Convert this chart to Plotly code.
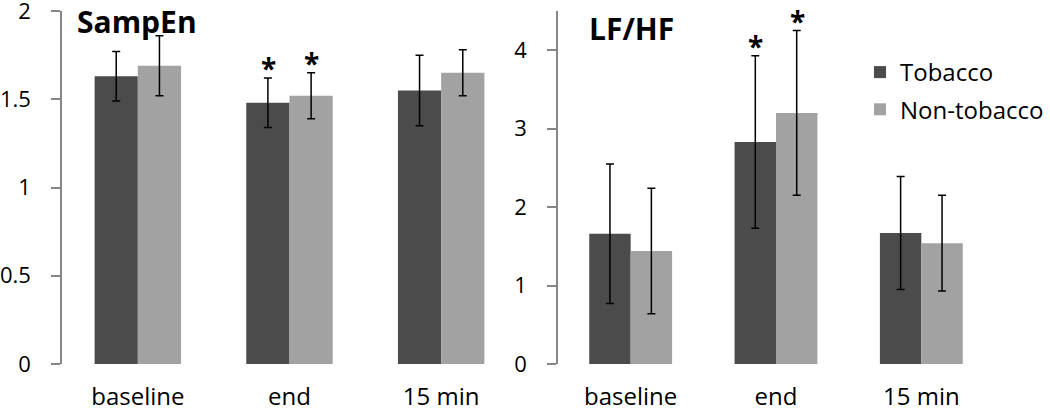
import plotly.graph_objects as go

categories = ["baseline", "end", "15 min"]

sampen_tobacco = [1.63, 1.48, 1.55]
sampen_tobacco_err = [0.14, 0.14, 0.20]
sampen_nontobacco = [1.69, 1.52, 1.65]
sampen_nontobacco_err = [0.17, 0.13, 0.13]

lfhf_tobacco = [1.66, 2.83, 1.67]
lfhf_tobacco_err = [0.89, 1.10, 0.72]
lfhf_nontobacco = [1.44, 3.20, 1.54]
lfhf_nontobacco_err = [0.80, 1.05, 0.61]

# significance markers (category, series)
stars = [("end", "Tobacco"), ("end", "Non-tobacco")]

DARK = "#4b4b4b"
LIGHT = "#a2a2a2"
AXIS = "#868686"
FONT = "Open Sans"

fig = go.Figure()

def add_pair(xa, ya, t, te, n, ne, show):
    fig.add_trace(go.Bar(
        x=categories, y=t, name="Tobacco", marker=dict(color=DARK, line=dict(width=0)),
        error_y=dict(type="data", array=te, color="black", thickness=1.5, width=4),
        xaxis=xa, yaxis=ya, showlegend=show, legendgroup="t"))
    fig.add_trace(go.Bar(
        x=categories, y=n, name="Non-tobacco", marker=dict(color=LIGHT, line=dict(width=0)),
        error_y=dict(type="data", array=ne, color="black", thickness=1.5, width=4),
        xaxis=xa, yaxis=ya, showlegend=show, legendgroup="n"))

add_pair("x", "y", sampen_tobacco, sampen_tobacco_err, sampen_nontobacco, sampen_nontobacco_err, True)
add_pair("x2", "y2", lfhf_tobacco, lfhf_tobacco_err, lfhf_nontobacco, lfhf_nontobacco_err, False)

def star_anns(xref, yref, t, te, n, ne, shift):
    anns = []
    for cat, ser in stars:
        i = categories.index(cat)
        if ser == "Tobacco":
            yv, xs = t[i] + te[i], -shift
        else:
            yv, xs = n[i] + ne[i], shift
        anns.append(dict(x=cat, y=yv, xref=xref, yref=yref, text="<b>*</b>", showarrow=False,
                         xshift=xs, yshift=-11, yanchor="bottom",
                         font=dict(family=FONT, size=28, color="black")))
    return anns

annotations = []
annotations += star_anns("x", "y", sampen_tobacco, sampen_tobacco_err, sampen_nontobacco, sampen_nontobacco_err, 21.5)
annotations += star_anns("x2", "y2", lfhf_tobacco, lfhf_tobacco_err, lfhf_nontobacco, lfhf_nontobacco_err, 21)
annotations.append(dict(x=75 / 1050, y=(412 - 22) / 412, xref="paper", yref="paper", text="<b>SampEn</b>",
                        showarrow=False, xanchor="left", yanchor="middle",
                        font=dict(family=FONT, size=30, color="black")))
annotations.append(dict(x=587 / 1050, y=(412 - 29) / 412, xref="paper", yref="paper", text="<b>LF/HF</b>",
                        showarrow=False, xanchor="left", yanchor="middle",
                        font=dict(family=FONT, size=30, color="black")))

ydom = [(412 - 364) / 412, (412 - 11) / 412]
xaxis_common = dict(type="category", range=[-0.5, 2.5], showline=False, ticks="", showgrid=False,
                    zeroline=False, tickfont=dict(family=FONT, size=24, color="black"),
                    ticklabelstandoff=16, automargin=False)
yaxis_common = dict(showline=True, linecolor=AXIS, linewidth=1.5, ticks="outside", ticklen=9,
                    tickcolor=AXIS, tickwidth=1.5, showgrid=False, zeroline=False,
                    tickfont=dict(family=FONT, size=22, color="black"), ticklabelstandoff=16,
                    ticklabeloverflow="allow", automargin=False, domain=ydom)

fig.update_layout(
    width=1050, height=412,
    margin=dict(l=0, r=0, t=0, b=0),
    paper_bgcolor="white", plot_bgcolor="white",
    barmode="group", bargap=0.43, bargroupgap=0,
    font=dict(family=FONT, color="black"),
    xaxis=dict(domain=[62 / 1050, 517 / 1050], anchor="y", **xaxis_common),
    xaxis2=dict(domain=[558 / 1050, 994 / 1050], anchor="y2", **xaxis_common),
    yaxis=dict(range=[0, 2.0001], tickvals=[0, 0.5, 1, 1.5, 2], ticktext=["0", "0.5", "1", "1.5", "2"],
               anchor="x", **yaxis_common),
    yaxis2=dict(range=[0, 4.5], tickvals=[0, 1, 2, 3, 4], ticktext=["0", "1", "2", "3", "4"],
                anchor="x2", **yaxis_common),
    legend=dict(x=860 / 1050, y=(412 - 50) / 412, xanchor="left", yanchor="top",
                font=dict(family=FONT, size=24, color="black"), bgcolor="rgba(0,0,0,0)",
                tracegroupgap=3, itemclick=False),
    annotations=annotations,
    showlegend=True,
)

fig.write_html("out.html", config={"displayModeBar": False},
               post_script="document.body.style.margin='0';")
